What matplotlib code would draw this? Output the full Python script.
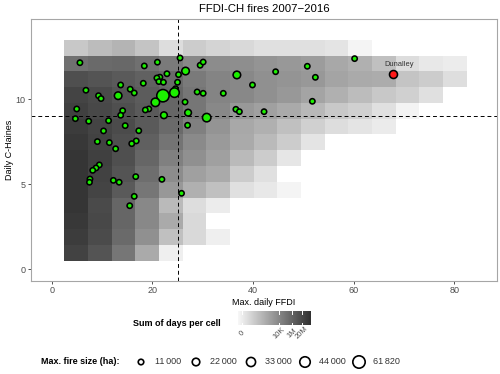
import matplotlib
matplotlib.use("Agg")
import matplotlib.pyplot as plt
import numpy as np
from matplotlib.colors import LinearSegmentedColormap

plt.rcParams['font.family'] = ['Liberation Sans', 'DejaVu Sans']

# heatmap shading per row (top row first), read as position on the colour bar: 0 light .. 1 dark
cell_rows = [
    [0.24, 0.30, 0.34, 0.26, 0.14, 0.22, 0.18, 0.16, 0.12, 0.12, 0.12, 0.10, 0.02],
    [0.68, 0.71, 0.72, 0.68, 0.63, 0.56, 0.54, 0.53, 0.50, 0.48, 0.46, 0.40, 0.36, 0.28, 0.14, 0.08, 0.06],
    [0.84, 0.82, 0.79, 0.75, 0.71, 0.63, 0.58, 0.56, 0.52, 0.50, 0.48, 0.42, 0.39, 0.38, 0.26, 0.22, 0.13],
    [0.90, 0.87, 0.82, 0.78, 0.73, 0.65, 0.58, 0.56, 0.52, 0.48, 0.42, 0.36, 0.30, 0.24, 0.20, 0.12],
    [0.92, 0.88, 0.84, 0.79, 0.73, 0.65, 0.56, 0.48, 0.44, 0.39, 0.32, 0.24, 0.20, 0.12, 0.03],
    [0.94, 0.90, 0.86, 0.79, 0.71, 0.60, 0.50, 0.40, 0.36, 0.28, 0.20, 0.14, 0.10, 0.07],
    [0.96, 0.91, 0.84, 0.76, 0.66, 0.55, 0.47, 0.39, 0.31, 0.22, 0.10],
    [0.97, 0.92, 0.84, 0.73, 0.60, 0.52, 0.44, 0.31, 0.22, 0.09],
    [0.97, 0.91, 0.82, 0.69, 0.54, 0.44, 0.39, 0.22, 0.12],
    [0.97, 0.90, 0.79, 0.65, 0.48, 0.36, 0.28, 0.12, 0.08, 0.02],
    [0.97, 0.87, 0.73, 0.56, 0.31, 0.14, 0.06],
    [0.96, 0.88, 0.73, 0.56, 0.39, 0.16],
    [0.94, 0.86, 0.71, 0.52, 0.28, 0.16, 0.05],
    [0.91, 0.82, 0.65, 0.39, 0.05],
]

# fires: max daily FFDI, daily C-Haines, fire size (ha)
fire_ffdi = [5.6, 18.4, 21.0, 25.5, 29.5, 30.1, 26.6, 22.9, 21.5, 20.9, 21.3, 22.2, 25.2, 25.0,
             24.6, 24.4, 22.1, 20.6, 22.3, 27.1, 30.8, 26.5, 28.9, 30.1, 34.1, 36.8, 39.9, 36.6,
             37.3, 42.2, 27.0, 19.3, 18.6, 18.2, 13.7, 15.6, 16.4, 13.2, 9.3, 9.8, 6.8, 4.97,
             4.7, 7.35, 11.3, 14.1, 13.7, 14.6, 10.3, 17.3, 9.07, 11.45, 12.7, 16.8, 15.9, 9.46,
             8.8, 8.15, 7.6, 7.5, 12.25, 13.4, 16.7, 21.9, 16.4, 15.5, 25.8, 60.2, 44.5, 50.8,
             52.4, 51.8]
fire_ch = [12.15, 11.96, 12.18, 12.43, 12.0, 12.19, 11.66, 11.5, 11.3, 11.25, 11.04, 11.0, 11.45, 11.0,
           10.62, 10.39, 10.21, 9.82, 9.06, 9.21, 8.92, 9.84, 10.43, 10.35, 10.35, 11.43, 10.84, 9.41,
           9.27, 9.27, 8.47, 9.43, 9.37, 10.94, 10.84, 10.59, 10.37, 10.21, 10.21, 10.04, 10.53, 9.43,
           8.86, 8.71, 8.74, 9.33, 9.06, 8.45, 8.14, 8.15, 7.51, 7.45, 7.09, 7.55, 7.39, 6.14,
           5.96, 5.82, 5.31, 5.12, 5.23, 5.12, 5.45, 5.29, 4.29, 3.74, 4.47, 12.39, 11.62, 11.94,
           11.29, 9.88]
fire_ha = [10000, 10000, 10000, 10000, 10000, 10000, 22000, 10000, 10000, 10000, 10000, 10000, 10000, 10000,
           10000, 36000, 61820, 28000, 17000, 17000, 28000, 10000, 10000, 10000, 10000, 22000, 10000, 10000,
           10000, 10000, 10000, 10000, 10000, 10000, 10000, 10000, 10000, 22000, 10000, 10000, 10000, 10000,
           10000, 10000, 10000, 10000, 10000, 10000, 10000, 10000, 10000, 10000, 10000, 10000, 10000, 10000,
           10000, 10000, 10000, 10000, 10000, 10000, 10000, 10000, 10000, 10000, 10000, 10000, 10000, 10000,
           10000, 10000]

dunalley_ffdi = 67.8
dunalley_ch = 11.49
dunalley_ha = 25000

ffdi_line = 25
ch_line = 9

cbar_labels = ['0', '10K', '1M', '20M']
cbar_ticks = [0.055, 0.56, 0.74, 0.875]

size_breaks = [11000, 22000, 33000, 44000, 61820]
size_labels = ['11\u2009000', '22\u2009000', '33\u2009000', '44\u2009000', '61\u2009820']

cmap = LinearSegmentedColormap.from_list('days', ['#f8f8f8', '#303030'])


def marker_area(ha):
    # diameter in pixels grows with the square root of fire size
    d_px = np.sqrt(4 + 0.0024 * np.asarray(ha, dtype=float))
    return (d_px * 0.72) ** 2


fig = plt.figure(figsize=(5, 3.74), dpi=100)
ax = fig.add_axes([31 / 500, 93.3 / 374, 466 / 500, 261.7 / 374])

n_rows, n_cols = len(cell_rows), max(len(r) for r in cell_rows)
grid = np.full((n_rows, n_cols), np.nan)
for i, row in enumerate(cell_rows[::-1]):
    grid[i, :len(row)] = row
x_edges = np.linspace(2.5, 82.5, n_cols + 1)
y_edges = np.linspace(0.5, 13.5, n_rows + 1)
ax.pcolormesh(x_edges, y_edges, np.ma.masked_invalid(grid), cmap=cmap, vmin=0, vmax=1, zorder=1)

ax.axvline(ffdi_line, color='black', lw=0.7, dashes=(4, 3), zorder=2)
ax.axhline(ch_line, color='black', lw=0.7, dashes=(4, 3), zorder=2)

ax.scatter(fire_ffdi, fire_ch, s=marker_area(fire_ha), c='#1cf000', edgecolors='black',
           linewidths=1.15, zorder=3)
ax.scatter([dunalley_ffdi], [dunalley_ch], s=marker_area([dunalley_ha]), c='#ff1a1a',
           edgecolors='black', linewidths=1.15, zorder=3)
ax.text(dunalley_ffdi + 1.2, dunalley_ch + 0.57, 'Dunalley', fontsize=5.4, color='#333333',
        ha='center', va='center', zorder=4)

ax.set_xlim(-4.12, 88.5)
ax.set_ylim(-0.67, 14.72)
ax.set_xticks([0, 20, 40, 60, 80])
ax.set_yticks([0, 5, 10])
ax.tick_params(labelsize=6.5, labelcolor='#4d4d4d', color='#333333', length=2.5, width=0.6, pad=1.5)
for sp in ax.spines.values():
    sp.set_color('#a6a6a6')
    sp.set_linewidth(0.8)
ax.set_xlabel('Max. daily FFDI', fontsize=6.5, labelpad=2)
ax.set_ylabel('Daily C-Haines', fontsize=6.5, labelpad=1)
ax.set_title('FFDI-CH fires 2007\u22122016', fontsize=8.2, pad=5)

# legends drawn in pixel coordinates on an overlay
ov = fig.add_axes([0, 0, 1, 1])
ov.axis('off')

bar_x0, bar_x1, bar_y0, bar_y1 = 238, 311, 311, 325
grad = np.linspace(0, 1, 256).reshape(1, -1)
ov.imshow(grad, extent=[bar_x0, bar_x1, bar_y1, bar_y0], aspect='auto', cmap=cmap, zorder=1)
for frac, lab in zip(cbar_ticks, cbar_labels):
    tx = bar_x0 + frac * (bar_x1 - bar_x0)
    ov.plot([tx, tx], [bar_y0, bar_y0 + 2.5], color='white', lw=0.7, zorder=2)
    ov.plot([tx, tx], [bar_y1 - 2.5, bar_y1], color='white', lw=0.7, zorder=2)
    ov.text(tx, bar_y1 + 8, lab, fontsize=5.5, color='#4d4d4d', rotation=45,
            ha='center', va='center')
ov.text(133, 323, 'Sum of days per cell', fontsize=6.5, fontweight='bold', ha='left', va='center')

ov.text(41, 362, 'Max. fire size (ha):', fontsize=6.5, fontweight='bold', ha='left', va='center')
leg_x = [141, 196, 251, 305, 359]
ov.scatter(leg_x, [362] * len(leg_x), s=marker_area(size_breaks), facecolors='white',
           edgecolors='black', linewidths=1.2, zorder=3)
for lx, lab in zip(leg_x, size_labels):
    ov.text(lx + 14, 362, lab, fontsize=6.5, color='#333333', ha='left', va='center')

ov.set_xlim(0, 500)
ov.set_ylim(374, 0)

fig.savefig('out.png', dpi=100)
